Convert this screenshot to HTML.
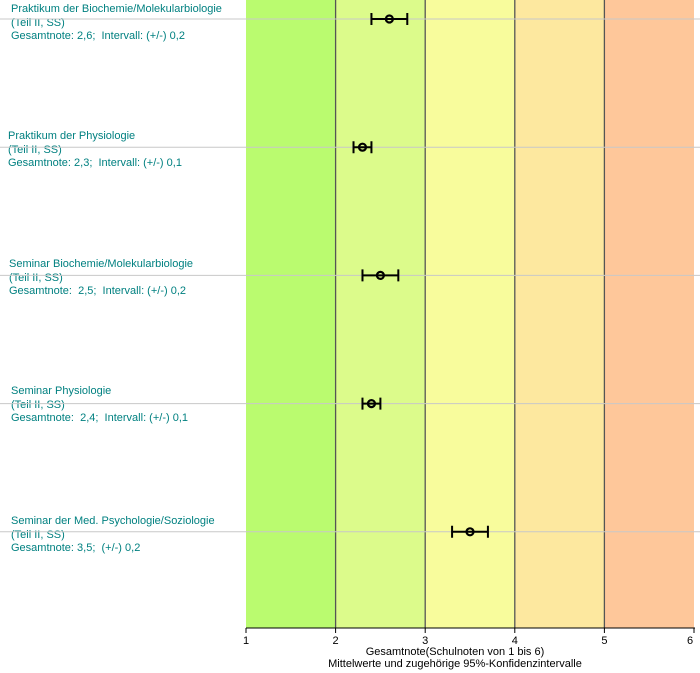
<!DOCTYPE html>
<html><head><meta charset="utf-8"><style>
body{margin:0;background:#fff;width:700px;height:673px;overflow:hidden;font-family:"Liberation Sans",Arial,sans-serif}
.lbl{position:absolute;color:#008080;font-size:11px;line-height:13.5px;white-space:nowrap}
</style></head><body>
<div class="lbl" style="left:11px;top:3px">Praktikum der Biochemie/Molekularbiologie<br>(Teil II, SS)<br>Gesamtnote: 2,6;&nbsp; Intervall: (+/-) 0,2</div>
<div class="lbl" style="left:8px;top:130px">Praktikum der Physiologie<br>(Teil II, SS)<br>Gesamtnote: 2,3;&nbsp; Intervall: (+/-) 0,1</div>
<div class="lbl" style="left:9px;top:258px">Seminar Biochemie/Molekularbiologie<br>(Teil II, SS)<br>Gesamtnote:&nbsp; 2,5;&nbsp; Intervall: (+/-) 0,2</div>
<div class="lbl" style="left:11px;top:385px">Seminar Physiologie<br>(Teil II, SS)<br>Gesamtnote:&nbsp; 2,4;&nbsp; Intervall: (+/-) 0,1</div>
<div class="lbl" style="left:11px;top:515px">Seminar der Med. Psychologie/Soziologie<br>(Teil II, SS)<br>Gesamtnote: 3,5;&nbsp; (+/-) 0,2</div>
<svg id="chart" width="700" height="673" style="position:absolute;left:0;top:0" font-family="Liberation Sans, Arial, sans-serif" font-size="11"></svg>
<script>
const categories=["Praktikum Biochemie","Praktikum Physiologie","Seminar Biochemie","Seminar Physiologie","Seminar Psychologie"];
const means=[2.6,2.3,2.5,2.4,3.5];
const errors=[0.2,0.1,0.2,0.1,0.2];
const tickLabels=["1","2","3","4","5","6"];
const bandColors=["#bafb6f","#dcfb8b","#f8fc9c","#fde89f","#fec79a"];
const ns="http://www.w3.org/2000/svg";
const svg=document.getElementById('chart');
const x0=246,x1=694,yTop=0,yBot=628;
const X=v=>x0+(v-1)/5*(x1-x0);
const rowY=i=>19+i*128.2;
function mk(t,a){const e=document.createElementNS(ns,t);for(const k in a)e.setAttribute(k,a[k]);svg.appendChild(e);return e;}
bandColors.forEach((c,i)=>{
 const r=mk('rect',{x:X(i+1),y:yTop,width:X(i+2)-X(i+1),height:yBot-yTop,fill:c});
 
 
});
for(let i=2;i<=5;i++){
 const l=mk('line',{x1:X(i),x2:X(i),y1:yTop,y2:yBot,stroke:'#555','stroke-width':1.3});
 
 
}
categories.forEach((c,i)=>{
 const y=rowY(i);
 const g=mk('line',{x1:0,x2:700,y1:y,y2:y,stroke:'#c8c8c8','stroke-width':1});
 
 
 const lo=X(means[i]-errors[i]),hi=X(means[i]+errors[i]);
 const e=mk('path',{d:`M${lo},${y}H${hi}M${lo},${y-6}V${y+6}M${hi},${y-6}V${y+6}`,stroke:'#000','stroke-width':2,fill:'none'});
 
 
 const p=mk('circle',{cx:X(means[i]),cy:y,r:3.5,fill:'none',stroke:'#000','stroke-width':2.2});
 
 
});
const ax=mk('line',{x1:x0,x2:x1+1,y1:yBot,y2:yBot,stroke:'#000','stroke-width':1});


tickLabels.forEach((t,i)=>{
 const x=X(i+1);
 const tk=mk('line',{x1:x,x2:x,y1:yBot,y2:yBot+5,stroke:'#000'});
 
 
 const tx=mk('text',{x:i==5?x-4:x,y:yBot+16,'text-anchor':'middle',fill:'#000'});
 tx.textContent=t;
 
 
});
const t1=mk('text',{x:455,y:655,'text-anchor':'middle',fill:'#000'});
t1.textContent="Gesamtnote(Schulnoten von 1 bis 6)";


const t2=mk('text',{x:455,y:667,'text-anchor':'middle',fill:'#000'});
t2.textContent="Mittelwerte und zugehörige 95%-Konfidenzintervalle";


</script>
</body></html>
